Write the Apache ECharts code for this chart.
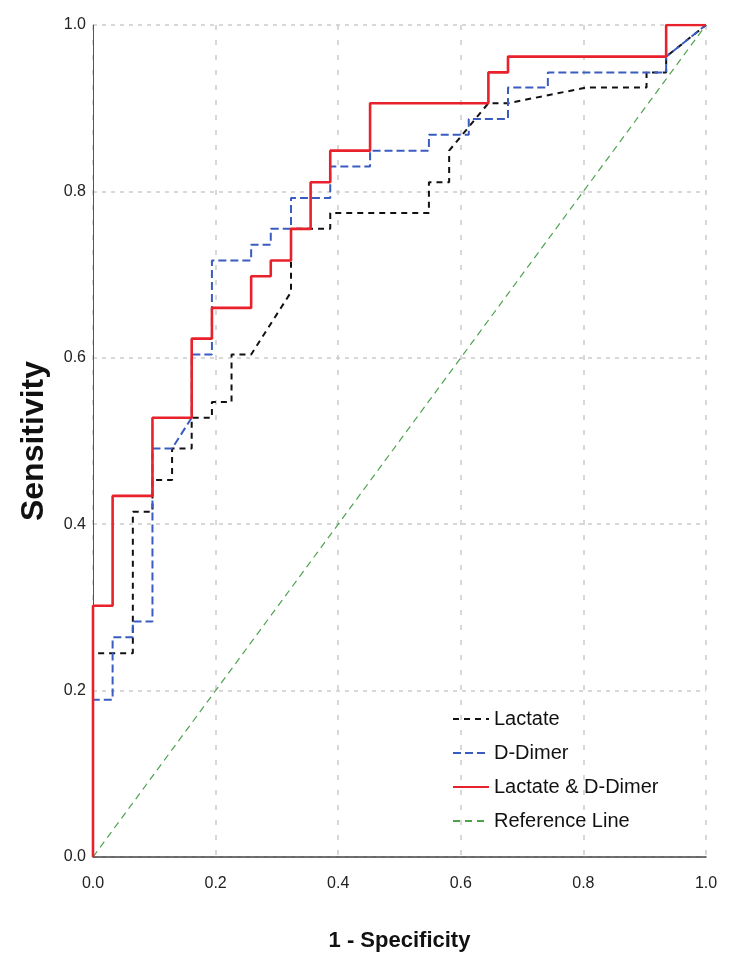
<!DOCTYPE html>
<html>
<head>
<meta charset="utf-8">
<script src="https://cdn.jsdelivr.net/npm/echarts@6/dist/echarts.min.js"></script>
<style>
  html, body { margin: 0; padding: 0; background: #fff; }
  #chart { width: 736px; height: 980px; }
</style>
</head>
<body>
<div id="chart"></div>
<script>
// ---- Data ----
var seriesNames = ["Lactate", "D-Dimer", "Lactate & D-Dimer", "Reference Line"];
var xTicks = [0, 0.2, 0.4, 0.6, 0.8, 1.0];
var yTicks = [0, 0.2, 0.4, 0.6, 0.8, 1.0];

var lactateX = [0, 0, 0.065, 0.065, 0.097, 0.097, 0.129, 0.129, 0.161, 0.161, 0.194, 0.194, 0.226, 0.226, 0.258, 0.323, 0.323, 0.387, 0.387, 0.548, 0.548, 0.581, 0.581, 0.645, 0.677, 0.806, 0.903, 0.903, 0.935, 0.935, 1];
var lactateY = [0, 0.245, 0.245, 0.415, 0.415, 0.453, 0.453, 0.491, 0.491, 0.528, 0.528, 0.547, 0.547, 0.604, 0.604, 0.679, 0.755, 0.755, 0.774, 0.774, 0.811, 0.811, 0.849, 0.906, 0.906, 0.925, 0.925, 0.943, 0.943, 0.962, 1];

var dDimerX = [0, 0, 0.032, 0.032, 0.065, 0.065, 0.097, 0.097, 0.129, 0.161, 0.161, 0.194, 0.194, 0.258, 0.258, 0.290, 0.290, 0.323, 0.323, 0.387, 0.387, 0.452, 0.452, 0.548, 0.548, 0.613, 0.613, 0.677, 0.677, 0.742, 0.742, 0.935, 0.935, 1];
var dDimerY = [0, 0.189, 0.189, 0.264, 0.264, 0.283, 0.283, 0.491, 0.491, 0.528, 0.604, 0.604, 0.717, 0.717, 0.736, 0.736, 0.755, 0.755, 0.792, 0.792, 0.830, 0.830, 0.849, 0.849, 0.868, 0.868, 0.887, 0.887, 0.925, 0.925, 0.943, 0.943, 0.962, 1];

var combinedX = [0, 0, 0.032, 0.032, 0.097, 0.097, 0.161, 0.161, 0.194, 0.194, 0.258, 0.258, 0.290, 0.290, 0.323, 0.323, 0.355, 0.355, 0.387, 0.387, 0.452, 0.452, 0.645, 0.645, 0.677, 0.677, 0.935, 0.935, 1];
var combinedY = [0, 0.302, 0.302, 0.434, 0.434, 0.528, 0.528, 0.623, 0.623, 0.660, 0.660, 0.698, 0.698, 0.717, 0.717, 0.755, 0.755, 0.811, 0.811, 0.849, 0.849, 0.906, 0.906, 0.943, 0.943, 0.962, 0.962, 1, 1];

var referenceX = [0, 1];
var referenceY = [0, 1];

function pairs(xs, ys) { return xs.map(function (x, i) { return [x, ys[i]]; }); }

var FONT = "'Liberation Sans', Arial, sans-serif";

var chart = echarts.init(document.getElementById('chart'), null, { renderer: 'canvas' });
chart.setOption({
  animation: false,
  backgroundColor: '#ffffff',
  grid: { left: 93, right: 30, top: 25, bottom: 123 },
  legend: {
    orient: 'vertical',
    left: 447,
    top: 704,
    itemWidth: 36,
    itemHeight: 14,
    itemGap: 14,
    data: seriesNames,
    itemStyle: { opacity: 0 },
    textStyle: { fontFamily: FONT, fontSize: 20, color: '#111' }
  },
  xAxis: {
    type: 'value', min: 0, max: 1, interval: 0.2,
    name: '1 - Specificity', nameLocation: 'middle', nameGap: 73,
    nameTextStyle: { fontFamily: FONT, fontSize: 22, fontWeight: 'bold', color: '#111' },
    axisLine: { lineStyle: { color: '#444', width: 1.5 } },
    axisTick: { show: false },
    axisLabel: { margin: 19, fontFamily: FONT, fontSize: 16, color: '#222',
      formatter: function (v) { return v.toFixed(1); } },
    splitLine: { show: true, lineStyle: { color: '#cccccc', width: 1.5, type: [5, 10] } }
  },
  yAxis: {
    type: 'value', min: 0, max: 1, interval: 0.2,
    name: 'Sensitivity', nameLocation: 'middle', nameGap: 43,
    nameTextStyle: { fontFamily: FONT, fontSize: 32, fontWeight: 'bold', color: '#111' },
    axisLine: { show: true, lineStyle: { color: '#555', width: 1 } },
    axisTick: { show: false },
    axisLabel: { margin: 7, fontFamily: FONT, fontSize: 16, color: '#222',
      formatter: function (v) { return v.toFixed(1); } },
    splitLine: { show: true, lineStyle: { color: '#cccccc', width: 1.5, type: [4, 5] } }
  },
  series: [
    { name: seriesNames[0], type: 'line', z: 3, symbol: 'none', data: pairs(lactateX, lactateY),
      itemStyle: { color: '#111' },
      lineStyle: { color: '#111', width: 2, type: [6, 5] } },
    { name: seriesNames[1], type: 'line', z: 4, symbol: 'none', data: pairs(dDimerX, dDimerY),
      itemStyle: { color: '#3a5cc0' },
      lineStyle: { color: '#3a5cc0', width: 2, type: [8, 4] } },
    { name: seriesNames[2], type: 'line', z: 5, symbol: 'none', data: pairs(combinedX, combinedY),
      itemStyle: { color: '#e8212b' },
      lineStyle: { color: '#e8212b', width: 2.6 } },
    { name: seriesNames[3], type: 'line', z: 2, symbol: 'none', data: pairs(referenceX, referenceY),
      itemStyle: { color: '#4ea24e' },
      lineStyle: { color: '#4ea24e', width: 1.2, type: [7, 5] } }
  ]
});
</script>
</body>
</html>
